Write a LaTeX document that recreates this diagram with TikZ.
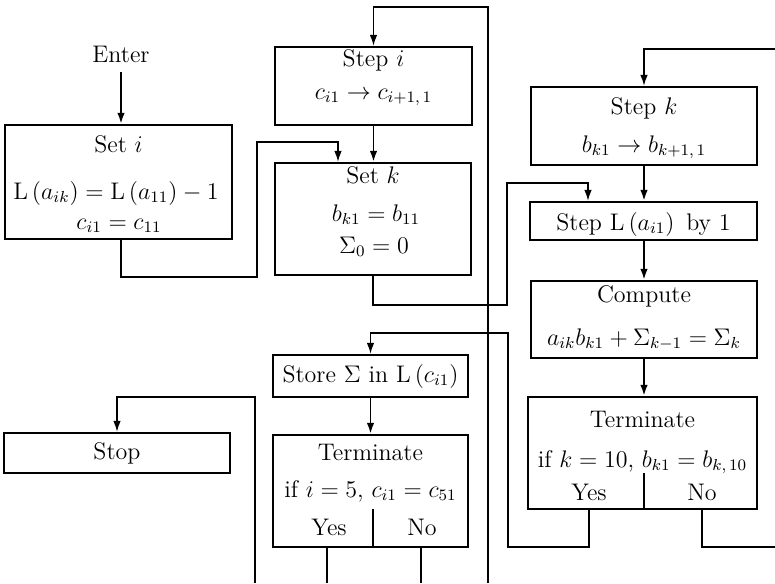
\documentclass[tikz,border=0pt]{standalone}
\usetikzlibrary{arrows.meta,fit}
\begin{document}
\begin{tikzpicture}[x=0.5pt,y=-0.5pt,
  box/.style={draw,line width=1.2pt,inner sep=0pt},
  txt/.style={anchor=base,inner sep=0pt,font=\fontsize{12}{14}\selectfont},
  conn/.style={line width=0.7pt},
  divider/.style={line width=0.8pt},
  flow/.style={line width=0.95pt,-{Latex[length=5.5pt,width=3.8pt]}},
  link/.style={conn,-{Latex[length=5.5pt,width=3.8pt]}},
]
\useasboundingbox (0,0) rectangle (775,583);

% boxes
\node[box,fit={(5,125)(232,239)}] (seti) {};
\node[box,fit={(275,47)(472,125)}] (stepi) {};
\node[box,fit={(275,163)(471,275)}] (setk) {};
\node[box,fit={(531,87)(757,165)}] (stepk) {};
\node[box,fit={(530,202)(757,240)}] (stepl) {};
\node[box,fit={(531,281)(757,358)}] (compute) {};
\node[box,fit={(528,397)(757,509)}] (termk) {};
\node[box,fit={(273,355)(468,397)}] (store) {};
\node[box,fit={(273,435)(468,547)}] (termi) {};
\node[box,fit={(4,433)(230,473)}] (stop) {};

% texts
\node[txt] (enter) at (121,63) {Enter};
\node[txt] (seti1) at (118.5,152) {Set $i$};
\node[txt] (seti2) at (116,199) {$\mathrm{L}\,(a_{ik}) = \mathrm{L}\,(a_{11}) - 1$};
\node[txt] (seti3) at (119,229) {$c_{i1} = c_{11}$};

\node[txt] (stepi1) at (373.5,67) {Step $i$};
\node[txt] (stepi2) at (373.5,99) {$c_{i1} \to c_{i+1,\,1}$};

\node[txt] (setk1) at (373,183) {Set $k$};
\node[txt] (setk2) at (376,221) {$b_{k1} = b_{11}$};
\node[txt] (setk3) at (374,253) {$\Sigma_0 = 0$};

\node[txt] (stepk1) at (644,114) {Step $k$};
\node[txt] (stepk2) at (644,152) {$b_{k1} \to b_{k+1,\,1}$};

\node[txt] (stepl1) at (643.5,230) {Step L\,$(a_{i1})$~\,by 1};

\node[txt] (comp1) at (644,302) {Compute};
\node[txt] (comp2) at (644,345) {$a_{ik}b_{k1} + \Sigma_{k-1} = \Sigma_k$};

\node[txt] (termk1) at (642.5,427) {Terminate};
\node[txt] (termk2) at (642.5,467) {if $k = 10$, $b_{k1} = b_{k,\,10}$};
\node[txt] (kyes) at (589,500) {Yes};
\node[txt] (kno) at (702,500) {No};

\node[txt] (store1) at (370.5,382) {Store $\Sigma$ in L\,$(c_{i1})$};

\node[txt] (termi1) at (370.5,460) {Terminate};
\node[txt] (termi2) at (370.5,497) {if $i = 5$, $c_{i1} = c_{51}$};
\node[txt] (iyes) at (329,535) {Yes};
\node[txt] (ino) at (422,535) {No};

\node[txt] (stop1) at (117,459) {Stop};

% coordinates
\coordinate (a1) at (257,277);
\coordinate (a2) at (338,142);
\coordinate (b1) at (507,305);
\coordinate (b2) at (588,183);
\coordinate (c0) at (488,583);
\coordinate (c1) at (488,7);
\coordinate (d0) at (775,49);
\coordinate (kdiv) at (644,473);
\coordinate (f1) at (508,547);
\coordinate (f2) at (508,333);
\coordinate (g1) at (775,547);
\coordinate (idiv) at (373,509);
\coordinate (iyesend) at (327,583);
\coordinate (inoend) at (421,583);
\coordinate (j0) at (255,583);
\coordinate (j1) at (255,397);

% connectors
\draw[flow] ([yshift=-4pt]enter.south) -- (enter.south |- seti.north);
\draw[link] (seti.south -| enter) |- (a1) |- (a2) -- (a2 |- setk.north);
\draw[flow] (stepi.south) -- (stepi.south |- setk.north);
\draw[link] (setk.south) |- (b1) |- (b2) -- (b2 |- stepl.north);
\draw[link] (c0) -- (c1) -| (stepi.north);
\draw[link] (d0) -| (stepk.north);
\draw[flow] (stepk.south) -- (stepk.south |- stepl.north);
\draw[flow] (stepl.south -| stepk.south) -- (stepk.south |- compute.north);
\draw[flow] (compute.south) -- (compute.south |- termk.north);
\draw[divider] (kdiv) -- (kdiv |- termk.south);
\draw[link] (termk.south -| kyes) |- (f1) -- (f2) -| (store.north);
\draw[conn] (termk.south -| kno) |- (g1);
\draw[flow] (store.south) -- (store.south |- termi.north);
\draw[divider] (idiv) -- (idiv |- termi.south);
\draw[conn] (termi.south -| iyesend) -- (iyesend);
\draw[conn] (termi.south -| inoend) -- (inoend);
\draw[link] (j0) -- (j1) -| (stop.north);
\end{tikzpicture}
\end{document}
